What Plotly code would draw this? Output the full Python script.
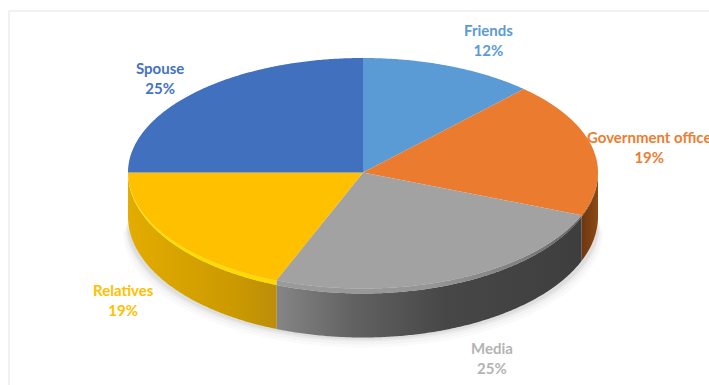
import math
import plotly.graph_objects as go

# Slice order runs clockwise from twelve o'clock
categories = ["Friends", "Government office", "Media", "Relatives", "Spouse"]
shares = [12, 19, 25, 19, 25]
top_colors = ["#5B9BD5", "#EB7B2E", "#A2A2A2", "#FFC000", "#4170BE"]
label_colors = ["#5B9BD5", "#ED7D31", "#B4B4B4", "#FFC000", "#4472C4"]

# Horizontal shading of the rim and the lit bevel above it, per slice
wall_shades = {
    "Government office": [[0, "#6E3610"], [1, "#8C4A14"]],
    "Media": [[0, "#858585"], [0.25, "#626262"], [0.55, "#474747"], [1, "#3E3E3E"]],
    "Relatives": [[0, "#E3AC00"], [0.7, "#CC9A00"], [1, "#BC8E08"]],
}
bevel_shades = {
    "Government office": [[0, "#A0581E"], [1, "#7A4012"]],
    "Media": [[0, "#9A9A9A"], [0.5, "#969696"], [0.8, "#808080"], [1, "#606060"]],
    "Relatives": [[0, "#FFE000"], [1, "#FFD800"]],
}

# Label anchors in the chart's pixel coordinates
label_x = [488, 649, 492, 123, 160]
label_y = [40, 147, 358, 300, 78]

CX, CY = 363, 172.5
RX = 235
RY_BACK, RY_FRONT = 114.5, 116
BEVEL = 5
DEPTH = 49


def rim(theta, extra=0.0, drop=0.0):
    """Point on the tilted disc edge; theta is clockwise degrees from the top."""
    t = math.radians(theta)
    ry = RY_BACK if math.cos(t) > 0 else RY_FRONT + extra
    return CX + RX * math.sin(t), CY - ry * math.cos(t) + drop


def arc(a, b, extra=0.0, drop=0.0):
    n = max(2, int(abs(b - a) * 2))
    pts = [rim(a + (b - a) * i / n, extra, drop) for i in range(n + 1)]
    return [p[0] for p in pts], [p[1] for p in pts]


fig = go.Figure()

# Soft shadow under the disc
for grow, alpha in [(10, 0.03), (7, 0.04), (4, 0.06), (2, 0.08)]:
    xs, ys = arc(90, 270, 0, DEPTH + grow)
    fig.add_trace(go.Scatter(
        x=[x + (x - CX) * grow / RX / 2 for x in xs], y=ys, fill="toself", mode="none",
        fillcolor=f"rgba(90,90,90,{alpha})", hoverinfo="skip", showlegend=False))

# Slice boundaries from the shares
edges = [0.0]
for s in shares:
    edges.append(edges[-1] + s / sum(shares) * 360)

# Rim walls and bevel for the slices facing the viewer
for name, a, b in zip(categories, edges[:-1], edges[1:]):
    lo, hi = max(a, 90), min(b, 270)
    if lo >= hi:
        continue
    x_top, y_top = arc(lo, hi, BEVEL)
    x_bot, y_bot = arc(hi, lo, BEVEL, DEPTH - BEVEL)
    fig.add_trace(go.Scatter(
        x=x_top + x_bot, y=y_top + y_bot, fill="toself", mode="none",
        fillgradient=dict(type="horizontal", colorscale=wall_shades[name],
                          start=min(x_top), stop=max(x_top)),
        hoverinfo="skip", showlegend=False))
    x_in, y_in = arc(hi, lo, 0)
    fig.add_trace(go.Scatter(
        x=x_top + x_in, y=y_top + y_in, fill="toself", mode="none",
        fillgradient=dict(type="horizontal", colorscale=bevel_shades[name],
                          start=min(x_top), stop=max(x_top)),
        hoverinfo="skip", showlegend=False))

# Top faces of the slices
for name, color, a, b in zip(categories, top_colors, edges[:-1], edges[1:]):
    xs, ys = arc(a, b)
    fig.add_trace(go.Scatter(
        x=[CX] + xs + [CX], y=[CY] + ys + [CY], fill="toself", mode="none",
        fillcolor=color, name=name, hoverinfo="skip", showlegend=False))

# Category and percentage labels
for name, s, color, x, y in zip(categories, shares, label_colors, label_x, label_y):
    fig.add_annotation(
        x=x, y=y, text=f"<b>{name}<br>{s}%</b>", showarrow=False, xanchor="center",
        yanchor="middle", align="center", font=dict(family="Lato", size=15, color=color))

fig.update_layout(
    width=709, height=385, margin=dict(l=0, r=0, t=0, b=0),
    paper_bgcolor="white", plot_bgcolor="white", showlegend=False,
    xaxis=dict(range=[0, 709], visible=False, fixedrange=True),
    yaxis=dict(range=[385, 0], visible=False, fixedrange=True),
    # Thin frame around the chart area
    shapes=[dict(type="line", x0=9, x1=709, y0=11, y1=11, line=dict(color="#EDEDED", width=1.5)),
            dict(type="line", x0=9, x1=9, y0=11, y1=385, line=dict(color="#EDEDED", width=1.5))],
)

fig.write_html("out.html", config={"displayModeBar": False})
